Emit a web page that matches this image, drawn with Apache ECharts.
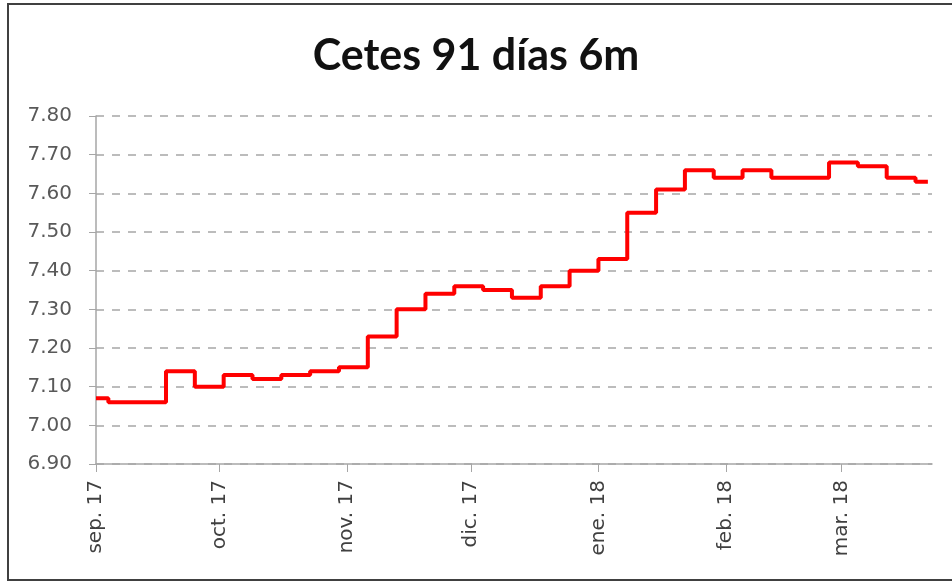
<!DOCTYPE html>
<html>
<head>
<meta charset="utf-8">
<script src="https://cdn.jsdelivr.net/npm/echarts@6/dist/echarts.min.js"></script>
<style>
  html, body { margin: 0; padding: 0; background: #fff; }
  #chart { width: 952px; height: 583px; }
</style>
</head>
<body>
<div id="chart"></div>
<script>
// fechas de cambio (subasta semanal) y tasa vigente desde esa fecha
var fechas = ['2017-09-01', '2017-09-04', '2017-09-18', '2017-09-25', '2017-10-02',
    '2017-10-09', '2017-10-16', '2017-10-23', '2017-10-30', '2017-11-06',
    '2017-11-13', '2017-11-20', '2017-11-27', '2017-12-04', '2017-12-11',
    '2017-12-18', '2017-12-25', '2018-01-01', '2018-01-08', '2018-01-15',
    '2018-01-22', '2018-01-29', '2018-02-05', '2018-02-12', '2018-02-26',
    '2018-03-05', '2018-03-12', '2018-03-19', '2018-03-22'];
var tasas = [7.07, 7.06, 7.14, 7.10, 7.13,
    7.12, 7.13, 7.14, 7.15, 7.23,
    7.30, 7.34, 7.36, 7.35, 7.33,
    7.36, 7.40, 7.43, 7.55, 7.61,
    7.66, 7.64, 7.66, 7.64, 7.68,
    7.67, 7.64, 7.63, 7.63];
var meses = ['ene.', 'feb.', 'mar.', 'abr.', 'may.', 'jun.',
    'jul.', 'ago.', 'sep.', 'oct.', 'nov.', 'dic.'];

var datos = [];
for (var i = 0; i < fechas.length; i++) {
    datos.push([fechas[i], tasas[i]]);
}

var chart = echarts.init(document.getElementById('chart'));

var option = {
    backgroundColor: '#fff',
    animation: false,
    title: {
        text: 'Cetes 91 días 6m',
        left: 'center',
        top: 30,
        textStyle: {
            fontFamily: 'Lato',
            fontWeight: 'bold',
            fontSize: 43,
            color: '#111'
        }
    },
    graphic: [{
        type: 'rect',
        shape: { x: 8, y: 4, width: 960, height: 576 },
        style: { fill: 'none', stroke: '#404040', lineWidth: 2 },
        silent: true
    }],
    grid: {
        left: 96,
        right: 20,
        top: 116,
        bottom: 119
    },
    xAxis: {
        type: 'time',
        min: '2017-09-01',
        max: '2018-03-23',
        splitNumber: 7,
        minInterval: 28 * 86400000,
        maxInterval: 31 * 86400000,
        axisLine: { lineStyle: { color: '#a6a6a6', width: 1.5 } },
        axisTick: { show: true, length: 8, lineStyle: { color: '#a6a6a6' } },
        splitLine: { show: false },
        axisLabel: {
            rotate: 90,
            margin: 16,
            color: '#404040',
            fontFamily: 'DejaVu Sans',
            fontSize: 20,
            showMaxLabel: false,
            formatter: function (v) {
                var d = new Date(v);
                return meses[d.getMonth()] + ' ' + String(d.getFullYear()).slice(2);
            }
        }
    },
    yAxis: {
        type: 'value',
        min: 6.9,
        max: 7.8,
        interval: 0.1,
        axisLine: { show: true, lineStyle: { color: '#a6a6a6', width: 1.5 } },
        axisTick: { show: true, length: 7, lineStyle: { color: '#a6a6a6' } },
        splitLine: { lineStyle: { color: '#a6a6a6', type: [8, 8], width: 1.5 } },
        axisLabel: {
            margin: 24,
            color: '#595959',
            fontFamily: 'DejaVu Sans',
            fontSize: 20,
            formatter: function (v) { return v.toFixed(2); }
        }
    },
    series: [{
        type: 'line',
        step: 'end',
        data: datos,
        symbol: 'none',
        lineStyle: { color: '#ff0000', width: 4 }
    }]
};

chart.setOption(option);
</script>
</body>
</html>
